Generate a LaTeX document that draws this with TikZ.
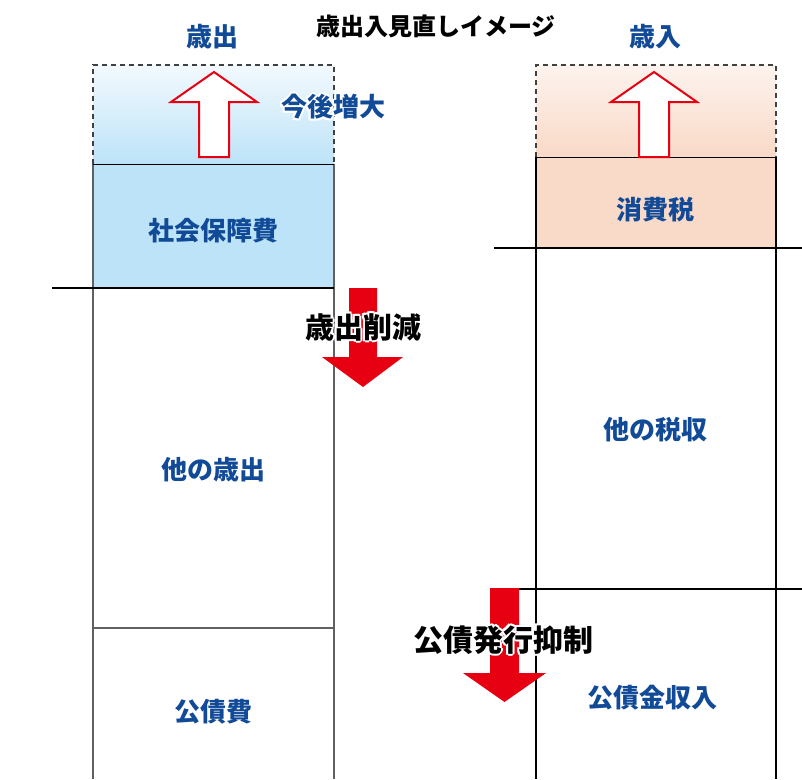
\documentclass[tikz,border=0pt]{standalone}
\usepackage{fontspec}
\setmainfont{Noto Sans CJK JP}
\definecolor{jblue}{HTML}{114A97}
\definecolor{ared}{HTML}{E60012}
\definecolor{lblue}{HTML}{BDE3F8}
\definecolor{lbluetop}{HTML}{F2F9FE}
\definecolor{peach}{HTML}{F9D9C7}
\definecolor{peachtop}{HTML}{FDF3EE}
\definecolor{lgrey}{HTML}{606060}
\definecolor{dgrey}{HTML}{404040}
\newcommand\hcopy[3]{\rlap{\kern#1\raisebox{#2}{\color{white}#3}}}
\newcommand\halo[1]{\hcopy{-2pt}{0pt}{#1}\hcopy{2pt}{0pt}{#1}\hcopy{0pt}{2pt}{#1}\hcopy{0pt}{-2pt}{#1}\hcopy{-1.4pt}{1.4pt}{#1}\hcopy{1.4pt}{1.4pt}{#1}\hcopy{-1.4pt}{-1.4pt}{#1}\hcopy{1.4pt}{-1.4pt}{#1}#1}
\tikzset{
  lbl/.style={font=\bfseries\fontsize{26}{28}\selectfont, text=jblue, inner sep=0pt},
  ttl/.style={font=\bfseries\fontsize{24}{26}\selectfont, text=black, inner sep=0pt},
  bigtxt/.style={font=\bfseries\fontsize{29}{31}\selectfont, text=black, inner sep=0pt},
  greyline/.style={draw=lgrey, line width=1.6pt},
  blkline/.style={draw=black, line width=1.3pt},
  dashbox/.style={draw=dgrey, line width=1.2pt, dash pattern=on 5pt off 4pt},
  uparrowshape/.style={draw=ared, fill=white, line width=2pt, line join=miter},
  downarrowshape/.style={fill=ared, draw=none},
}
\begin{document}
\begin{tikzpicture}[x=1pt, y=-1pt]
\useasboundingbox (0,0) rectangle (802,779);
% ---------- left column ----------
\shade[top color=lbluetop, bottom color=lblue] (93,65) rectangle (334,164);
\fill[lblue] (93,164) rectangle (334,288);
\draw[dashbox] (93,164) -- (93,65) -- (334,65) -- (334,164);
\draw[greyline] (93,164) -- (93,779);
\draw[greyline] (334,164) -- (334,779);
\draw[blkline, line width=1pt] (93,164) -- (334,164);
\coordinate (lcut1) at (52,288);
\coordinate (lcut2) at (334,288);
\draw[blkline] (lcut1) -- (lcut2);
\draw[greyline] (93,628) -- (334,628);
\draw[uparrowshape] (199,157) -- (199,102) -- (171,102) -- (214,72) -- (257,102) -- (229,102) -- (229,157) -- cycle;
% ---------- right column ----------
\shade[top color=peachtop, bottom color=peach] (536,65) rectangle (776,157);
\fill[peach] (536,157) rectangle (776,248);
\draw[dashbox] (536,157) -- (536,65) -- (776,65) -- (776,157);
\draw[blkline] (536,157) -- (536,779);
\draw[blkline] (776,157) -- (776,779);
\draw[blkline, line width=1pt] (536,157) -- (776,157);
\coordinate (rcut1a) at (494,248);
\coordinate (rcut1b) at (802,248);
\draw[blkline] (rcut1a) -- (rcut1b);
\coordinate (rcut2a) at (494,589);
\coordinate (rcut2b) at (802,589);
\draw[blkline] (rcut2a) -- (rcut2b);
\draw[uparrowshape] (639,157) -- (639,102) -- (611,102) -- (654,72) -- (697,102) -- (669,102) -- (669,157) -- cycle;
% ---------- down arrows ----------
\fill[downarrowshape] (349,288) -- (377,288) -- (377,357) -- (403,357) -- (363,387) -- (322,357) -- (349,357) -- cycle;
\fill[downarrowshape] (490,588) -- (519,588) -- (519,673) -- (546,673) -- (504.5,702) -- (463,673) -- (490,673) -- cycle;
% ---------- texts ----------
\node[ttl] (title) at (436,26) {歳出入見直しイメージ};
\node[lbl] (saishutsu) at (212,37) {歳出};
\node[lbl] (sainyu) at (655,37) {歳入};
\node[lbl] (kongo) at (333,107) {\halo{今後増大}};
\node[lbl] (shakai) at (213,231) {社会保障費};
\node[lbl] (tanosaishutsu) at (213,470) {他の歳出};
\node[lbl] (kosaihi) at (213,712) {公債費};
\node[lbl] (shohizei) at (655,210) {消費税};
\node[lbl] (tanozeishu) at (655,430) {他の税収};
\node[lbl] (kosaikin) at (652,698) {公債金収入};
\node[bigtxt] (sakugen) at (363,327) {\halo{歳出削減}};
\node[bigtxt, font=\bfseries\fontsize{30}{32}\selectfont] (yokusei) at (503,640) {\halo{公債発行抑制}};
\end{tikzpicture}
\end{document}
